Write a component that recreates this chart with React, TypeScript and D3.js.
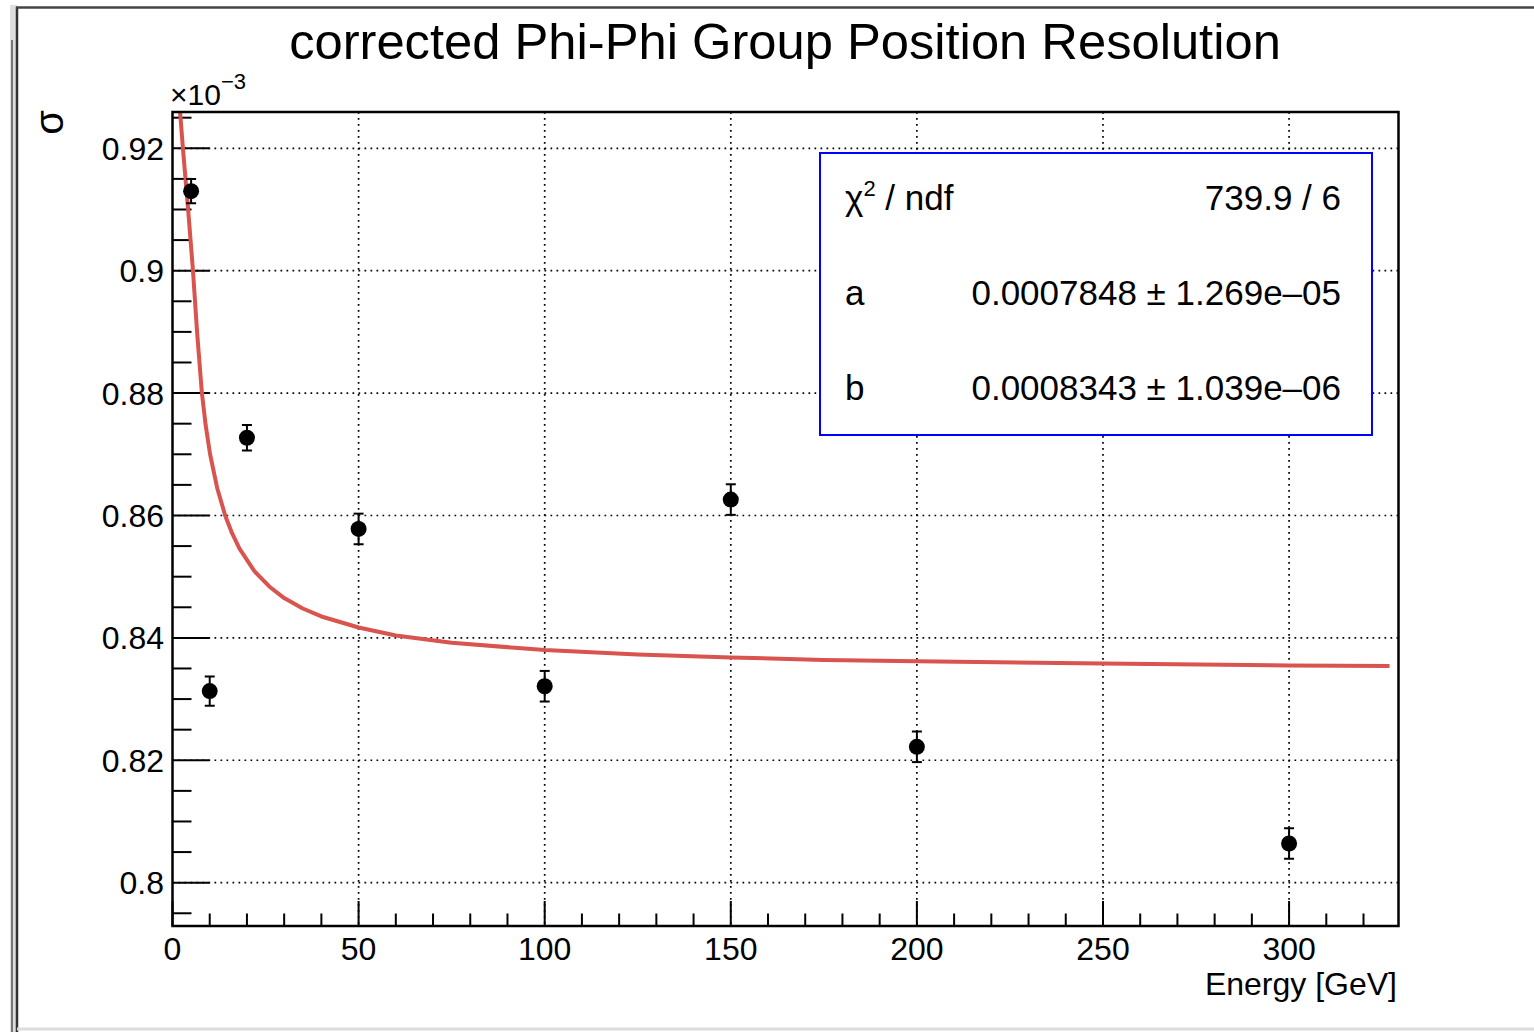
import React from "react";
import * as d3 from "d3";

// measured points (sigma in units of 1e-3)
const energies = [5, 10, 20, 50, 100, 150, 200, 300];
const sigmas = [0.913, 0.8313, 0.8727, 0.8578, 0.8321, 0.8626, 0.8222, 0.8064];
const sigmaErrs = [0.002, 0.0024, 0.0021, 0.0025, 0.0025, 0.0025, 0.0025, 0.0025];

// fitted curve
const fitE = [1.9, 2.8, 4.2, 5.5, 6.6, 7.9, 8.9, 10.1, 12, 14.2, 16, 18, 22, 26, 30, 35, 40, 50, 60, 75, 100, 125, 150, 175, 200, 250, 300, 327];
const fitSigma = [0.927, 0.92, 0.91, 0.9, 0.89, 0.88, 0.8748, 0.87, 0.8645, 0.8599, 0.8571, 0.8546, 0.8509, 0.8484, 0.8465, 0.8448, 0.8435, 0.8417, 0.8404, 0.8392, 0.838, 0.8373, 0.8368, 0.8364, 0.8362, 0.8358, 0.8355, 0.8354];

const xMajor = [0, 50, 100, 150, 200, 250, 300];
const yMajor = [0.8, 0.82, 0.84, 0.86, 0.88, 0.9, 0.92];

const fitRows = [
  { name: "a", value: "0.0007848 \u00b1 1.269e\u201305" },
  { name: "b", value: "0.0008343 \u00b1 1.039e\u201306" },
];

const FONT = "'Liberation Sans', Arial, Helvetica, sans-serif";

export default function App() {
  const W = 1534;
  const H = 1032;
  const left = 172.5;
  const right = 1398.5;
  const top = 112;
  const bottom = 926;

  const x = d3.scaleLinear().domain([0, 329.4]).range([left, right]);
  const y = d3.scaleLinear().domain([0.79292, 0.92593]).range([bottom, top]);

  const xMinor = d3.range(0, 330, 10).filter((v) => v % 50 !== 0);
  const yMinor = d3.range(0.795, 0.926, 0.005).filter(
    (v) => Math.abs(Math.round(v / 0.02) * 0.02 - v) > 1e-6
  );

  const line = d3
    .line<number>()
    .x((_, i) => x(fitE[i]))
    .y((d) => y(d));

  return (
    <svg
      width={W}
      height={H}
      style={{ position: "absolute", left: 0, top: 0, background: "#fff" }}
      fontFamily={FONT}
    >
      {/* window frame */}
      <rect x={10} y={5} width={7} height={H - 5} fill="#dedede" />
      <line x1={17} y1={7} x2={17} y2={H} stroke="#333" strokeWidth={2.5} />
      <line x1={12} y1={40} x2={12} y2={H} stroke="#555" strokeWidth={1.5} />
      <line x1={16} y1={7.5} x2={W} y2={7.5} stroke="#444" strokeWidth={2.5} />
      <line x1={17} y1={1029} x2={W} y2={1029} stroke="#dcdcdc" strokeWidth={3} />

      <defs>
        <clipPath id="plotClip">
          <rect x={left} y={top} width={right - left} height={bottom - top} />
        </clipPath>
      </defs>

      {/* grid */}
      <g stroke="#000" strokeWidth={1.7} strokeDasharray="1.7,4.3">
        {xMajor.filter((v) => v > 0).map((v) => (
          <line key={"gx" + v} x1={x(v)} x2={x(v)} y1={top} y2={bottom} />
        ))}
        {yMajor.map((v) => (
          <line key={"gy" + v} x1={left} x2={right} y1={y(v)} y2={y(v)} />
        ))}
      </g>

      {/* ticks */}
      <g stroke="#000" strokeWidth={2}>
        {xMajor.map((v) => (
          <line key={"tx" + v} x1={x(v)} x2={x(v)} y1={bottom} y2={bottom - 25} />
        ))}
        {xMinor.map((v) => (
          <line key={"mx" + v} x1={x(v)} x2={x(v)} y1={bottom} y2={bottom - 12.5} />
        ))}
        {yMajor.map((v) => (
          <line key={"ty" + v} x1={left} x2={left + 37} y1={y(v)} y2={y(v)} />
        ))}
        {yMinor.map((v) => (
          <line key={"my" + v} x1={left} x2={left + 19} y1={y(v)} y2={y(v)} />
        ))}
      </g>

      {/* fit curve */}
      <path
        d={line(fitSigma) || ""}
        fill="none"
        stroke="#d9534f"
        strokeWidth={4}
        strokeLinejoin="round"
        clipPath="url(#plotClip)"
      />

      {/* data points */}
      <g clipPath="url(#plotClip)">
        {energies.map((e, i) => {
          const cx = x(e);
          const y1 = y(sigmas[i] + sigmaErrs[i]);
          const y2 = y(sigmas[i] - sigmaErrs[i]);
          return (
            <g key={"p" + e}>
              <line x1={cx} x2={cx} y1={y1} y2={y2} stroke="#000" strokeWidth={2} />
              <line x1={cx - 5} x2={cx + 5} y1={y1} y2={y1} stroke="#000" strokeWidth={2} />
              <line x1={cx - 5} x2={cx + 5} y1={y2} y2={y2} stroke="#000" strokeWidth={2} />
              <circle cx={cx} cy={y(sigmas[i])} r={8} fill="#000" />
            </g>
          );
        })}
      </g>

      {/* frame */}
      <rect
        x={left}
        y={top}
        width={right - left}
        height={bottom - top}
        fill="none"
        stroke="#000"
        strokeWidth={2.5}
      />

      {/* tick labels */}
      <g fontSize={32} fill="#000">
        {xMajor.map((v) => (
          <text key={"lx" + v} x={x(v)} y={960} textAnchor="middle">
            {v}
          </text>
        ))}
        {yMajor.map((v) => (
          <text key={"ly" + v} x={164} y={y(v) + 11.5} textAnchor="end">
            {d3.format("")(+v.toFixed(2))}
          </text>
        ))}
      </g>

      {/* exponent */}
      <text x={170} y={105} fontSize={30}>
        {"\u00d710"}
      </text>
      <text x={221} y={89} fontSize={22}>
        {"\u22123"}
      </text>

      {/* axis titles */}
      <text x={1397} y={995} fontSize={32} textAnchor="end">
        Energy [GeV]
      </text>
      <text
        transform="translate(63,110) rotate(-90)"
        fontSize={40}
        textAnchor="end"
      >
        {"\u03c3"}
      </text>

      {/* title */}
      <text x={785} y={59} fontSize={50.7} textAnchor="middle">
        corrected Phi-Phi Group Position Resolution
      </text>

      {/* fit box */}
      <rect x={820} y={153} width={552} height={282} fill="#fff" stroke="#0000ff" strokeWidth={2} />
      <g fontSize={35}>
        <text x={845} y={210}>
          {"\u03c7"}
          <tspan fontSize={22} dy={-14}>2</tspan>
          <tspan dy={14}>{" / ndf"}</tspan>
        </text>
        <text x={1341} y={210} textAnchor="end">
          739.9 / 6
        </text>
        {fitRows.map((r, i) => (
          <g key={r.name}>
            <text x={845} y={305 + i * 95}>
              {r.name}
            </text>
            <text x={1341} y={305 + i * 95} textAnchor="end">
              {r.value}
            </text>
          </g>
        ))}
      </g>
    </svg>
  );
}
